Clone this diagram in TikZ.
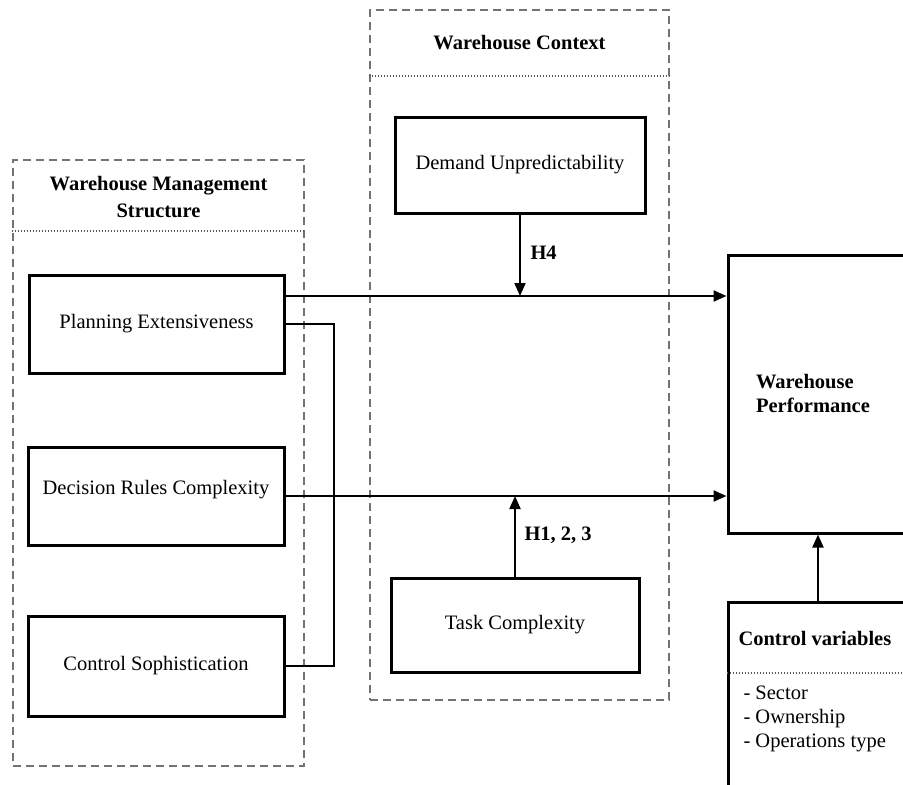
\documentclass[tikz,border=0pt]{standalone}
\usepackage{fontspec}
\setmainfont{Liberation Serif}
\usetikzlibrary{arrows.meta,calc}
\begin{document}
\begin{tikzpicture}[x=1pt,y=-1pt,
  every node/.style={font=\fontsize{20.5}{24}\selectfont},
  box/.style={draw=black, line width=3pt, inner sep=0pt, align=center},
  group/.style={draw=black!55, line width=2.8pt, dash pattern=on 8pt off 5pt, inner sep=0pt},
  sepline/.style={draw=black!65, line width=1.8pt, dash pattern=on 1.6pt off 1.4pt},
  conn/.style={draw=black, line width=2pt},
  arr/.style={-{Triangle[length=13pt,width=11pt]}},
  bold/.style={font=\fontsize{20.5}{24}\selectfont\bfseries}
]
\useasboundingbox (0,0) rectangle (903,785);
\fill[white] (0,0) rectangle (903,785);
\clip (0,0) rectangle (903,785);

% groups
\node[group, minimum width=291pt, minimum height=606pt] (g1) at (158.5,463) {};
\node[bold, align=center] (g1t) at (158.5,197) {Warehouse Management\\[3pt]Structure};
\draw[sepline] (g1.west |- 0,231) -- (g1.east |- 0,231);

\node[group, minimum width=299pt, minimum height=690pt] (g2) at (519.5,355) {};
\node[bold] (g2t) at (519.5,43) {Warehouse Context};
\draw[sepline] (g2.west |- 0,76) -- (g2.east |- 0,76);

% boxes
\node[box, minimum width=255pt, minimum height=98pt] (plan) at (156.5,324) {Planning Extensiveness};
\node[box, minimum width=256pt, minimum height=98pt] (dec) at (156,496) {Decision Rules Complexity\\[-6pt]};
\node[box, minimum width=256pt, minimum height=100pt] (cs) at (156,666) {Control Sophistication};
\node[box, minimum width=250pt, minimum height=96pt] (dem) at (520,165) {Demand Unpredictability};
\node[box, minimum width=248pt, minimum height=94pt] (task) at (515,625) {Task Complexity};
\node[box, minimum width=182pt, minimum height=278pt] (perf) at (819,394) {};
\node[bold, align=left] (perft) at (813,393) {Warehouse\\Performance};
\node[box, minimum width=180pt, minimum height=193pt] (cv) at (818,698.5) {};
\node[bold, anchor=west] (cvt) at (735,638) {Control variables};
\draw[sepline] (cv.west |- 0,673) -- (cv.east |- 0,673);
\node[anchor=west, align=left] (cvi) at (740,719) {- Sector\\- Ownership\\- Operations type};

% connectors
\coordinate (l1) at ([yshift=28pt]plan.east);
\draw[conn,arr] (l1) -- (l1 -| perf.west);
\draw[conn] (plan.east) -- ++(48,0) |- (cs.east);
\draw[conn,arr] (dec.east) -- (dec.east -| perf.west);
\draw[conn,arr] (dem.south) -- (dem.south |- l1);
\draw[conn,arr] (task.north) -- (task.north |- dec.east);
\draw[conn,arr] (cv.north) -- (cv.north |- perf.south);

% labels
\node[bold, anchor=west] (h4) at (527,253) {H4};
\node[bold, anchor=west] (h123) at (521,535) {H1, 2, 3};
\end{tikzpicture}
\end{document}
